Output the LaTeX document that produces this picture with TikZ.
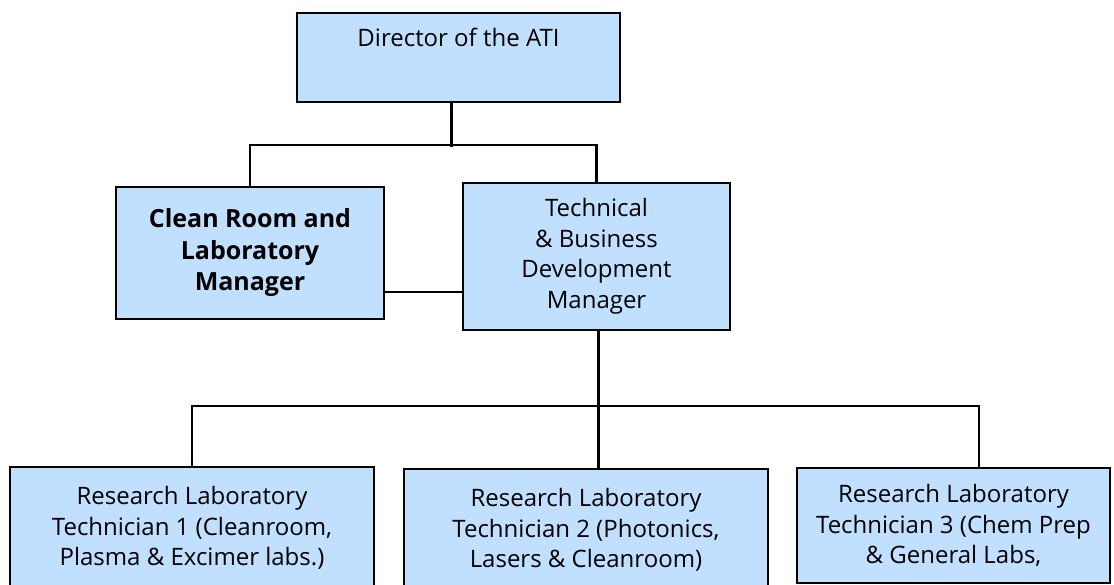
\documentclass[tikz,border=0pt]{standalone}
\usepackage{fontspec}
\setmainfont{Open Sans}
\definecolor{boxblue}{RGB}{193,223,254}
\tikzset{
  box/.style={draw, line width=2.4pt, fill=boxblue, align=center, inner sep=0pt,
    font=\fontsize{24}{30.5}\selectfont},
  link/.style={line width=2.2pt},
}
\begin{document}
\begin{tikzpicture}[x=1pt, y=-1pt]
  \clip (0,0) rectangle (1114,585);
  % direttore
  \node[box, minimum width=323, minimum height=89] (dir) at (458.5,57.5) {Director of the ATI\\ \strut};
  % manager
  \node[box, font={\fontsize{25}{31.5}\selectfont\bfseries}, minimum width=268, minimum height=132] (crm) at (250,253) {Clean Room and\\Laboratory\\Manager};
  \node[box, minimum width=267, minimum height=147] (tech) at (596.5,256.5) {Technical\\\& Business\\Development\\Manager};
  % tecnici
  \node[box, minimum width=364, minimum height=122] (tec1) at (192,528) {Research Laboratory\\Technician 1 (Cleanroom,\\Plasma \& Excimer labs.)};
  \node[box, minimum width=364, minimum height=122] (tec2) at (586,530) {Research Laboratory\\Technician 2 (Photonics,\\Lasers \& Cleanroom)};
  \node[box, minimum width=313, minimum height=115] (tec3) at (953.5,525.5) {Research Laboratory\\Technician 3 (Chem Prep\\\& General Labs,};
  % collegamenti
  \draw[link] ([xshift=-7]dir.south) -- ++(0,44) coordinate (dirbus);
  \draw[link] (crm.north) -- ++(0,-41) -| (tech.north);
  \draw[link] ([yshift=-39]crm.east) -- ([yshift=-39]crm.east -| tech.west);
  \draw[link] ([xshift=2]tech.south) -- ([xshift=2]tech.south |- tec2.north);
  \draw[link] (tec1.north) -- ++(0,-60) -| ([xshift=25.5]tec3.north);
\end{tikzpicture}
\end{document}
